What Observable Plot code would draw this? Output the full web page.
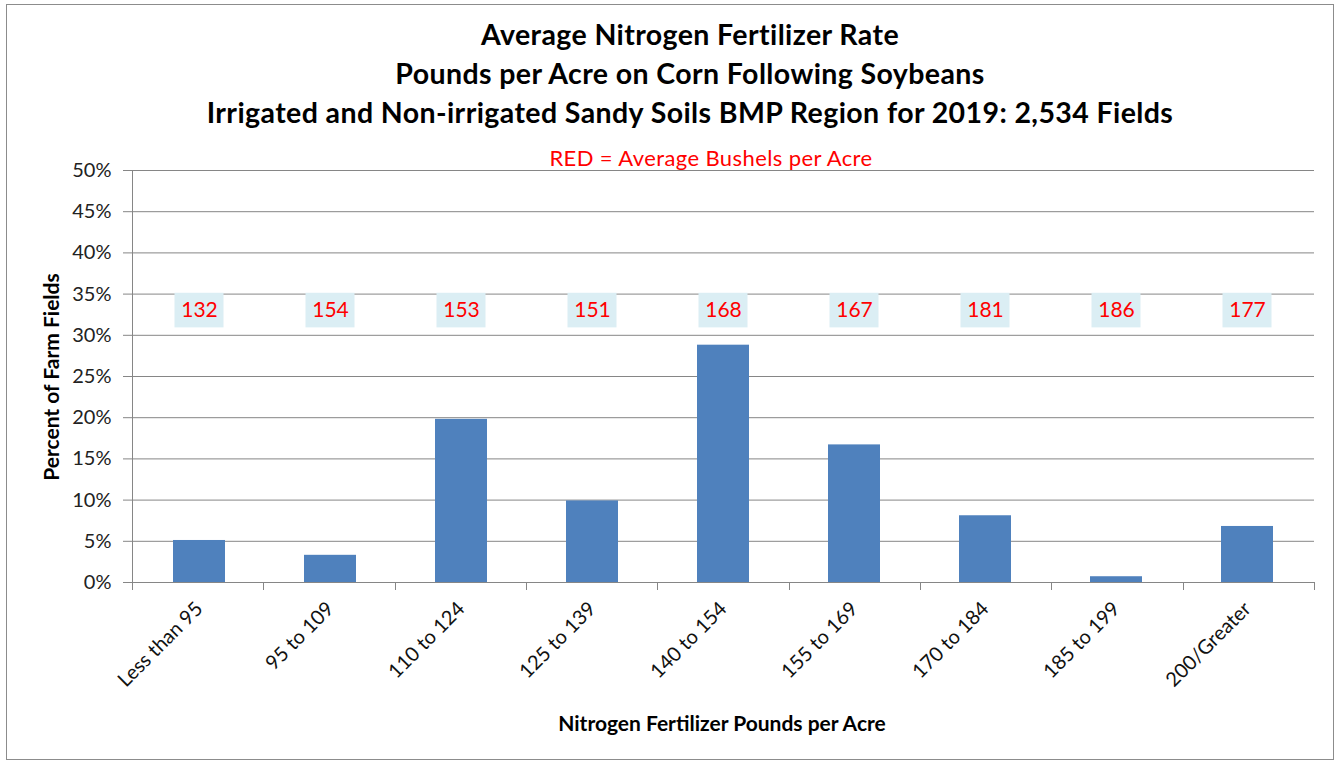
<!DOCTYPE html>
<html>
<head>
<meta charset="utf-8">
<script src="https://cdn.jsdelivr.net/npm/d3@7"></script>
<script src="https://cdn.jsdelivr.net/npm/@observablehq/plot@0.6"></script>
<style>
  html, body { margin: 0; padding: 0; background: #fff; }
  #wrap { position: relative; width: 1338px; height: 763px; overflow: hidden; font-family: Lato, "Open Sans", sans-serif; }
  #border { position: absolute; left: 6px; top: 4px; width: 1328px; height: 756px; border: 1.5px solid #8c8c8c; box-sizing: border-box; }
  #chart { position: absolute; left: 0; top: 0; }
  .title { position: absolute; left: 90px; width: 1200px; text-align: center; font-weight: bold; font-size: 28.5px; letter-spacing: 0.4px; color: #000; line-height: 39px; white-space: nowrap; }
  #sub { position: absolute; left: 411px; width: 600px; top: 144px; text-align: center; color: #ff0000; font-size: 22px; letter-spacing: 0.4px; line-height: 28px; }
  #ylab { position: absolute; left: 50px; top: 377px; transform: translate(-50%, -50%) rotate(-90deg); white-space: nowrap; font-weight: bold; font-size: 21px; color: #000; }
  #xlab { position: absolute; left: 722px; top: 722px; transform: translate(-50%, -50%); white-space: nowrap; font-weight: bold; font-size: 21px; color: #000; }
</style>
</head>
<body>
<div id="wrap">
  <div id="chart"></div>
  <div id="border"></div>
  <div class="title" style="top:15px">Average Nitrogen Fertilizer Rate</div>
  <div class="title" style="top:54px">Pounds per Acre on Corn Following Soybeans</div>
  <div class="title" style="top:93px">Irrigated and Non-irrigated Sandy Soils BMP Region for 2019: 2,534 Fields</div>
  <div id="sub">RED = Average Bushels per Acre</div>
  <div id="ylab">Percent of Farm Fields</div>
  <div id="xlab">Nitrogen Fertilizer Pounds per Acre</div>
</div>
<script>
const categories = ["Less than 95", "95 to 109", "110 to 124", "125 to 139", "140 to 154", "155 to 169", "170 to 184", "185 to 199", "200/Greater"];
const percentFields = [5.1, 3.3, 19.8, 9.9, 28.8, 16.7, 8.1, 0.7, 6.8];
const avgBushels = [132, 154, 153, 151, 168, 167, 181, 186, 177];
const yTicks = [0, 5, 10, 15, 20, 25, 30, 35, 40, 45, 50];

const data = categories.map((c, i) => ({cat: c, pct: percentFields[i], bu: avgBushels[i]}));

const LABEL_Y = 33;

function frameLines(index, scales, values, dims) {
  const {width, height, marginLeft, marginRight, marginTop, marginBottom} = dims;
  const y0 = height - marginBottom;
  const g = d3.create("svg:g").attr("stroke", "#868686").attr("stroke-width", 1).attr("fill", "none");
  g.append("line").attr("x1", marginLeft + 0.5).attr("x2", marginLeft + 0.5).attr("y1", marginTop).attr("y2", y0 + 8);
  const n = categories.length;
  const w = (width - marginLeft - marginRight) / n;
  for (let i = 1; i <= n; i++) {
    const x = Math.round(marginLeft + i * w) + 0.5;
    g.append("line").attr("x1", x).attr("x2", x).attr("y1", y0).attr("y2", y0 + 8);
  }
  return g.node();
}

const plot = Plot.plot({
  width: 1338,
  height: 763,
  marginTop: 170,
  marginBottom: 181,
  marginLeft: 132,
  marginRight: 24,
  style: {fontFamily: "Lato, 'Open Sans', sans-serif", background: "transparent", color: "#222"},
  x: {domain: categories, paddingInner: 0.6, paddingOuter: 0.3, label: null},
  y: {domain: [0, 50], label: null},
  marks: [
    Plot.gridY(yTicks, {stroke: "#868686", strokeOpacity: 1, strokeWidth: 1, insetLeft: -9}),
    Plot.barY(data, {x: "cat", y: "pct", fill: "#4F81BD"}),
    Plot.barY(data, {x: "cat", y1: LABEL_Y - 2.1, y2: LABEL_Y + 2.1, fill: "#DBEEF4", insetLeft: 1.5, insetRight: 1.5}),
    Plot.text(data, {x: "cat", y: LABEL_Y, text: d => String(d.bu), fill: "#ff0000", fontSize: 21}),
    frameLines,
    Plot.axisY(yTicks, {tickSize: 0, tickPadding: 21, tickFormat: d => d + "%", fontSize: 20, fill: "#222", label: null}),
    Plot.axisX({tickRotate: -45, tickSize: 0, tickPadding: 23, fontSize: 20, fill: "#111", label: null})
  ]
});
document.getElementById("chart").appendChild(plot);
</script>
</body>
</html>
